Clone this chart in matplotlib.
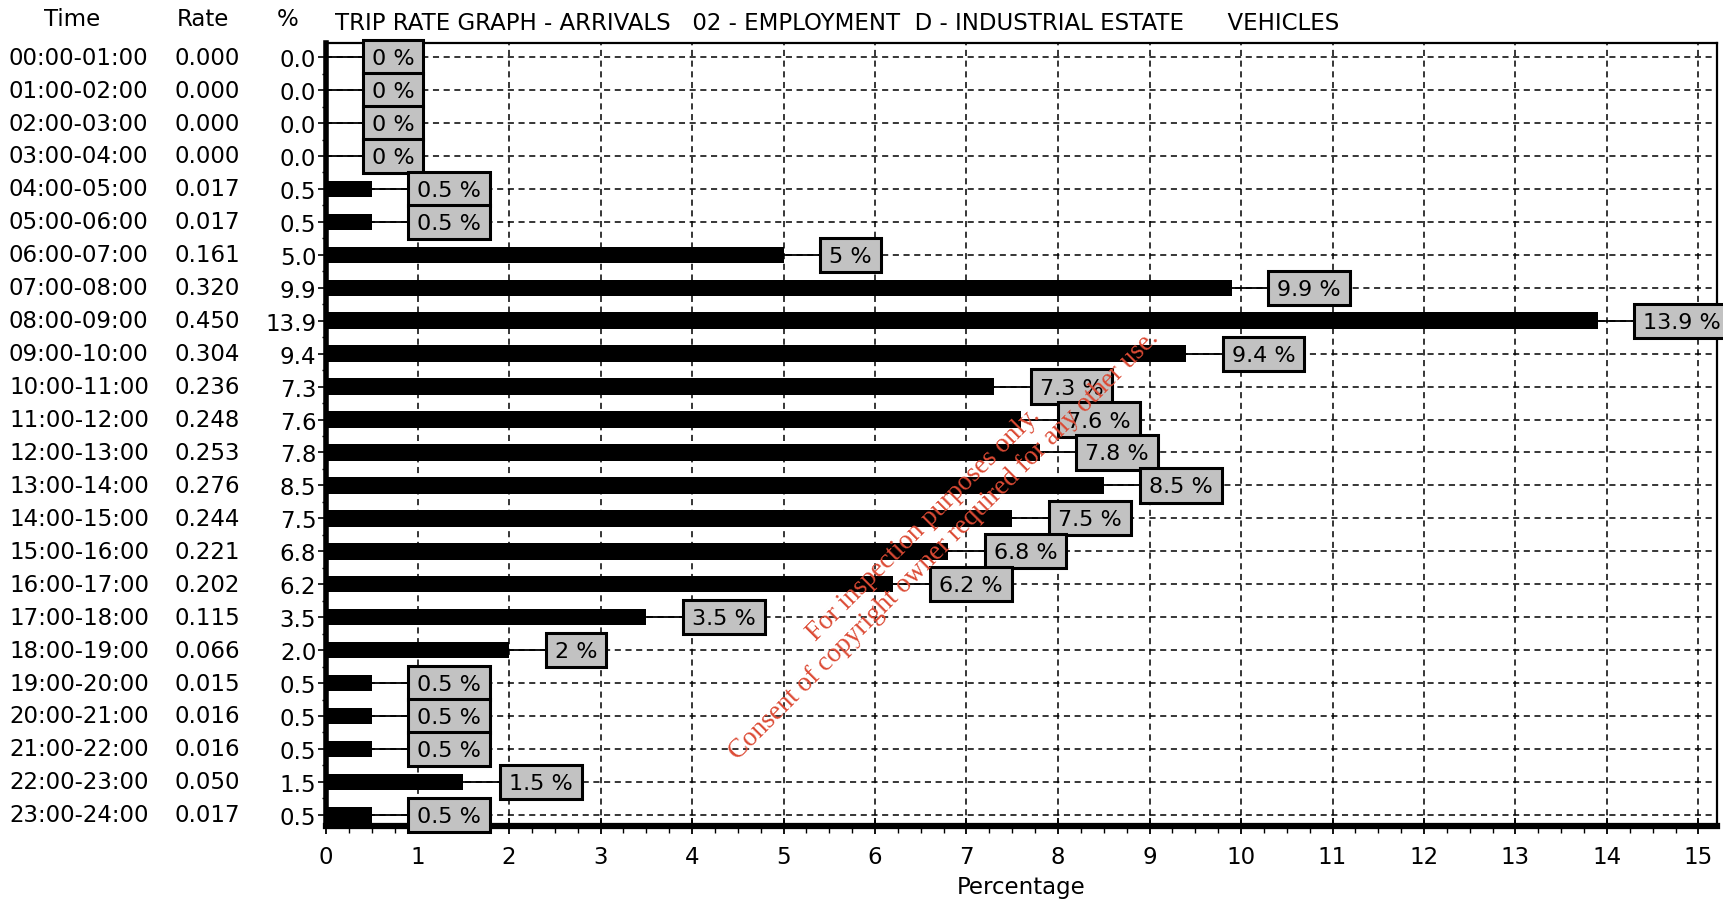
import matplotlib
matplotlib.use("Agg")
import matplotlib.pyplot as plt
from matplotlib import font_manager
from matplotlib.patches import Rectangle
from matplotlib.ticker import MultipleLocator
from matplotlib.transforms import blended_transform_factory
import numpy as np

# Hourly arrival trip rates and their share of the daily total
times = ["00:00-01:00", "01:00-02:00", "02:00-03:00", "03:00-04:00",
         "04:00-05:00", "05:00-06:00", "06:00-07:00", "07:00-08:00",
         "08:00-09:00", "09:00-10:00", "10:00-11:00", "11:00-12:00",
         "12:00-13:00", "13:00-14:00", "14:00-15:00", "15:00-16:00",
         "16:00-17:00", "17:00-18:00", "18:00-19:00", "19:00-20:00",
         "20:00-21:00", "21:00-22:00", "22:00-23:00", "23:00-24:00"]
rates = [0.000, 0.000, 0.000, 0.000, 0.017, 0.017, 0.161, 0.320,
         0.450, 0.304, 0.236, 0.248, 0.253, 0.276, 0.244, 0.221,
         0.202, 0.115, 0.066, 0.015, 0.016, 0.016, 0.050, 0.017]
pcts = [0.0, 0.0, 0.0, 0.0, 0.5, 0.5, 5.0, 9.9,
        13.9, 9.4, 7.3, 7.6, 7.8, 8.5, 7.5, 6.8,
        6.2, 3.5, 2.0, 0.5, 0.5, 0.5, 1.5, 0.5]
x_ticks = list(range(0, 16))

title = "TRIP RATE GRAPH - ARRIVALS   02 - EMPLOYMENT  D - INDUSTRIAL ESTATE      VEHICLES"
watermark = "For inspection purposes only.\nConsent of copyright owner required for any other use."

plt.rcParams['font.family'] = ['DejaVu Sans']
FS = 16.5

# narrow face for the value boxes when available
installed = {f.name for f in font_manager.fontManager.ttflist}
if 'Liberation Sans Narrow' in installed:
    BOX_FAMILY, BOX_FS, BOX_PAD = ['Liberation Sans Narrow'], 20, 16
else:
    BOX_FAMILY, BOX_FS, BOX_PAD = ['DejaVu Sans'], 16, 9

W, H = 1724, 904
fig = plt.figure(figsize=(W / 100, H / 100), dpi=100)
ax_left, ax_right, ax_top, ax_bottom = 326, 1717, 44, 827
ax = fig.add_axes([ax_left / W, 1 - ax_bottom / H,
                   (ax_right - ax_left) / W, (ax_bottom - ax_top) / H])

n = len(times)
ypos = np.arange(n)
px_per_unit = 91.5
ax.set_xlim(0, (ax_right - ax_left) / px_per_unit)
ax.set_ylim(n - 1 + 0.34, -0.43)

# dashed grid
dash = (0, (4, 3))
for xv in x_ticks[1:]:
    ax.axvline(xv, color='black', lw=1.1, ls=dash, zorder=1)
for yv in ypos:
    ax.axhline(yv, color='black', lw=1.1, ls=dash, zorder=1)

# bars
ax.barh(ypos, pcts, height=0.5, color='black', zorder=3)

# label boxes with leader lines
fig.canvas.draw()
renderer = fig.canvas.get_renderer()
for i, v in enumerate(pcts):
    left = v + 0.4
    t = ax.text(0, i, f"{v:g} %", ha='center', va='center', fontsize=BOX_FS,
                family=BOX_FAMILY, color='black', zorder=7, clip_on=False)
    bb = t.get_window_extent(renderer)
    w_units = (bb.width + 2 * BOX_PAD) / px_per_unit
    t.set_position((left + w_units / 2, i + 0.03))
    ax.add_patch(Rectangle((left, i - 0.52), w_units, 1.04,
                           facecolor='#c2c2c2', edgecolor='black', lw=2.2,
                           zorder=6, clip_on=False))
    ax.plot([v, left], [i, i], color='black', lw=1.3, zorder=4,
            solid_capstyle='butt')

# axes styling
for side, lw in (('left', 4.0), ('bottom', 4.5), ('top', 1.6), ('right', 1.6)):
    ax.spines[side].set_linewidth(lw)
    ax.spines[side].set_color('black')

ax.set_xticks(x_ticks)
ax.xaxis.set_minor_locator(MultipleLocator(0.25))
ax.tick_params(axis='x', which='major', direction='inout', length=12,
               width=1.3, labelsize=FS, pad=8)
ax.tick_params(axis='x', which='minor', direction='out', length=5, width=1.0)

ax.set_yticks(ypos)
ax.set_yticklabels([f"{p:.1f}" for p in pcts])
ax.yaxis.set_minor_locator(MultipleLocator(0.5))
ax.tick_params(axis='y', which='major', direction='out', length=6,
               width=1.2, labelsize=FS, pad=1)
ax.tick_params(axis='y', which='minor', direction='out', length=3, width=1.0)

ax.set_xlabel("Percentage", fontsize=FS, labelpad=5)

# left-hand table of time periods and rates
trans = blended_transform_factory(fig.transFigure, ax.transData)
for i in range(n):
    ax.text(9 / W, i, times[i], transform=trans, ha='left', va='center',
            fontsize=FS, clip_on=False)
    ax.text(240 / W, i, f"{rates[i]:.3f}", transform=trans, ha='right',
            va='center', fontsize=FS, clip_on=False)

header_y = 1 - 19 / H
fig.text(72 / W, header_y, "Time", ha='center', va='center', fontsize=FS)
fig.text(203 / W, header_y, "Rate", ha='center', va='center', fontsize=FS)
fig.text(288 / W, header_y, "%", ha='center', va='center', fontsize=FS)
fig.text(335 / W, 1 - 24 / H, title, ha='left', va='center', fontsize=FS)

# diagonal notice across the plot
fig.text(934 / W, 1 - 535 / H, watermark, rotation=45, rotation_mode='anchor',
         ha='center', va='center', multialignment='center',
         color='#dc4a34', fontsize=19.5, family=['Liberation Serif', 'DejaVu Serif'],
         zorder=20)

fig.savefig("out.png", dpi=100)
